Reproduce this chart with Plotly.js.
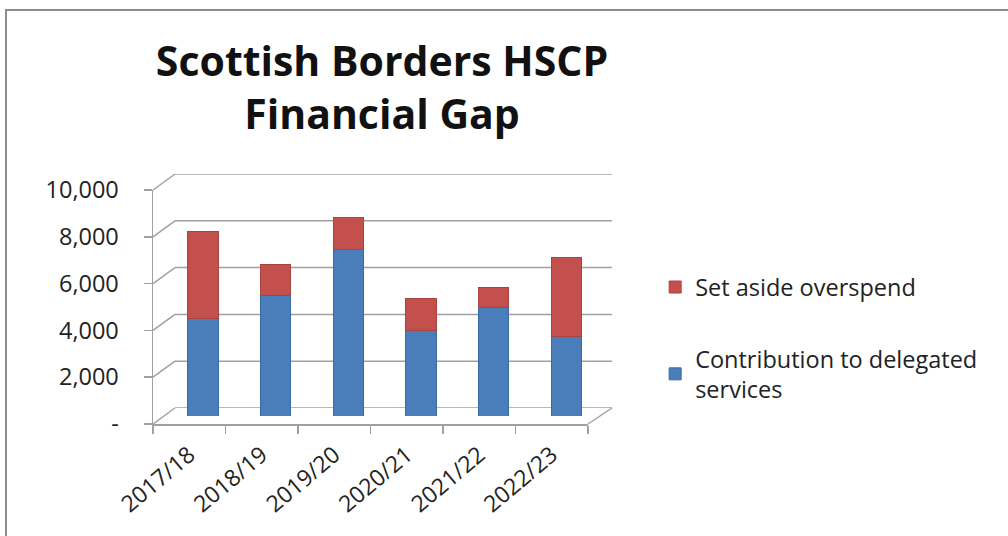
<!DOCTYPE html>
<html>
<head>
<meta charset="utf-8">
<script src="https://cdn.plot.ly/plotly-3.0.1.min.js"></script>
<style>
  html, body { margin: 0; padding: 0; background: #fff; }
  #wrap { position: relative; width: 1008px; height: 536px; }
  #frame { position: absolute; left: 5px; top: 9px; width: 1003px; height: 527px;
           border-left: 2px solid #8c8c8c; border-top: 2px solid #8c8c8c; pointer-events: none; }
  #chart { width: 1008px; height: 536px; }
</style>
</head>
<body>
<div id="wrap">
  <div id="chart"></div>
  <div id="frame"></div>
</div>
<script>
const categories = ['2017/18', '2018/19', '2019/20', '2020/21', '2021/22', '2022/23'];
const contribution = [4150, 5150, 7100, 3650, 4620, 3400];
const setAside = [3750, 1320, 1380, 1360, 860, 3380];
const yTickVals = [0, 2000, 4000, 6000, 8000, 10000];
const yTickText = ['-', '2,000', '4,000', '6,000', '8,000', '10,000'];
const yMax = 10000;

const FONT = '"Open Sans", "Noto Sans", sans-serif';
const GRID = '#a0a0a0';

// pseudo-3D geometry (fractions of the plot area)
const FRONT_X = [0, 0.9477], FRONT_Y = [0, 0.936];
const BACK_X = [0.0479, 1], BACK_Y = [0.064, 1];
const MID_X = [0.0296, 0.980], MID_Y = [0.032, 0.968];
const CAT_RANGE = [-0.5, categories.length - 0.5];

const traces = [
  {
    type: 'bar', name: 'Contribution to delegated<br>services',
    x: categories, y: contribution, xaxis: 'x3', yaxis: 'y3',
    marker: { color: '#4a7ebb', line: { color: '#3a6aa3', width: 1 } },
    legendgroup: 'a', legendrank: 2, hoverinfo: 'x+y'
  },
  {
    type: 'bar', name: 'Set aside overspend',
    x: categories, y: setAside, xaxis: 'x3', yaxis: 'y3',
    marker: { color: '#c4504d', line: { color: '#a84340', width: 1 } },
    legendgroup: 'b', legendrank: 1, hoverinfo: 'x+y'
  },
  // invisible traces to register front and back axes
  { type: 'scatter', x: categories, y: contribution.map(() => null), xaxis: 'x', yaxis: 'y',
    showlegend: false, hoverinfo: 'skip', mode: 'markers' },
  { type: 'scatter', x: categories, y: contribution.map(() => null), xaxis: 'x2', yaxis: 'y2',
    showlegend: false, hoverinfo: 'skip', mode: 'markers' }
];

// back-wall gridlines, connectors to the front axis, and floor edge
const shapes = [];
yTickVals.forEach(v => {
  shapes.push({
    type: 'line', xref: 'x2 domain', yref: 'y2', layer: 'below',
    x0: 0, x1: 1, y0: v, y1: v,
    line: { color: GRID, width: 1.5 }
  });
  shapes.push({
    type: 'line', xref: 'paper', yref: 'paper', layer: 'below',
    x0: FRONT_X[0], x1: BACK_X[0],
    y0: FRONT_Y[0] + (FRONT_Y[1] - FRONT_Y[0]) * v / yMax,
    y1: BACK_Y[0] + (BACK_Y[1] - BACK_Y[0]) * v / yMax,
    line: { color: GRID, width: 1.5 }
  });
});
shapes.push({
  type: 'line', xref: 'paper', yref: 'paper', layer: 'below',
  x0: BACK_X[1], y0: BACK_Y[0], x1: FRONT_X[1], y1: FRONT_Y[0],
  line: { color: GRID, width: 1.5 }
});

const layout = {
  width: 1008, height: 536,
  paper_bgcolor: '#ffffff', plot_bgcolor: 'rgba(0,0,0,0)',
  margin: { l: 153, r: 396, t: 174, b: 112 },
  barmode: 'stack', bargap: 0.585,
  font: { family: FONT, color: '#222222', size: 22 },
  title: {
    text: 'Scottish Borders HSCP<br>Financial Gap',
    font: { family: FONT, size: 41, color: '#111111', weight: 'bold' },
    xref: 'container', x: 382 / 1008, xanchor: 'center',
    yref: 'container', y: 1 - 76 / 536, yanchor: 'top'
  },
  // front axes: labels, ticks, axis lines
  xaxis: {
    domain: FRONT_X, anchor: 'y',
    type: 'category', categoryarray: categories, range: CAT_RANGE,
    tickangle: -40,
    tickson: 'boundaries',
    ticks: 'outside', ticklen: 8, tickcolor: GRID, tickwidth: 1.5,
    ticklabelstandoff: 7,
    showline: true, linecolor: GRID, linewidth: 1.5,
    showgrid: false, fixedrange: true,
    tickfont: { family: FONT, size: 23, color: '#222222' }
  },
  yaxis: {
    domain: FRONT_Y, anchor: 'x',
    range: [0, yMax],
    tickvals: yTickVals, ticktext: yTickText,
    ticks: 'outside', ticklen: 8, tickcolor: GRID, tickwidth: 1.5,
    ticklabelstandoff: 20,
    showline: true, linecolor: GRID, linewidth: 1.5,
    showgrid: false, zeroline: false,
    tickfont: { family: FONT, size: 23.5, color: '#222222' }
  },
  // back wall
  xaxis2: {
    domain: BACK_X, anchor: 'y2', type: 'category', categoryarray: categories, range: CAT_RANGE,
    showticklabels: false, ticks: '', showgrid: false, showline: false, zeroline: false
  },
  yaxis2: {
    domain: BACK_Y, anchor: 'x2', range: [0, yMax],
    showticklabels: false, ticks: '', showgrid: false, zeroline: false, showline: false
  },
  // mid depth: bars
  xaxis3: {
    domain: MID_X, anchor: 'y3', type: 'category', categoryarray: categories, range: CAT_RANGE,
    showticklabels: false, ticks: '', showgrid: false, showline: false, zeroline: false
  },
  yaxis3: {
    domain: MID_Y, anchor: 'x3', range: [0, yMax],
    showticklabels: false, ticks: '', showgrid: false, zeroline: false, showline: false
  },
  shapes: shapes,
  legend: {
    x: 1.094, xanchor: 'left', xref: 'paper',
    y: 0.635, yanchor: 'top',
    traceorder: 'grouped', tracegroupgap: 38,
    font: { family: FONT, size: 23.5, color: '#222222' },
    bgcolor: 'rgba(0,0,0,0)'
  },
  showlegend: true
};

Plotly.newPlot('chart', traces, layout, { displayModeBar: false, staticPlot: true });
</script>
</body>
</html>
